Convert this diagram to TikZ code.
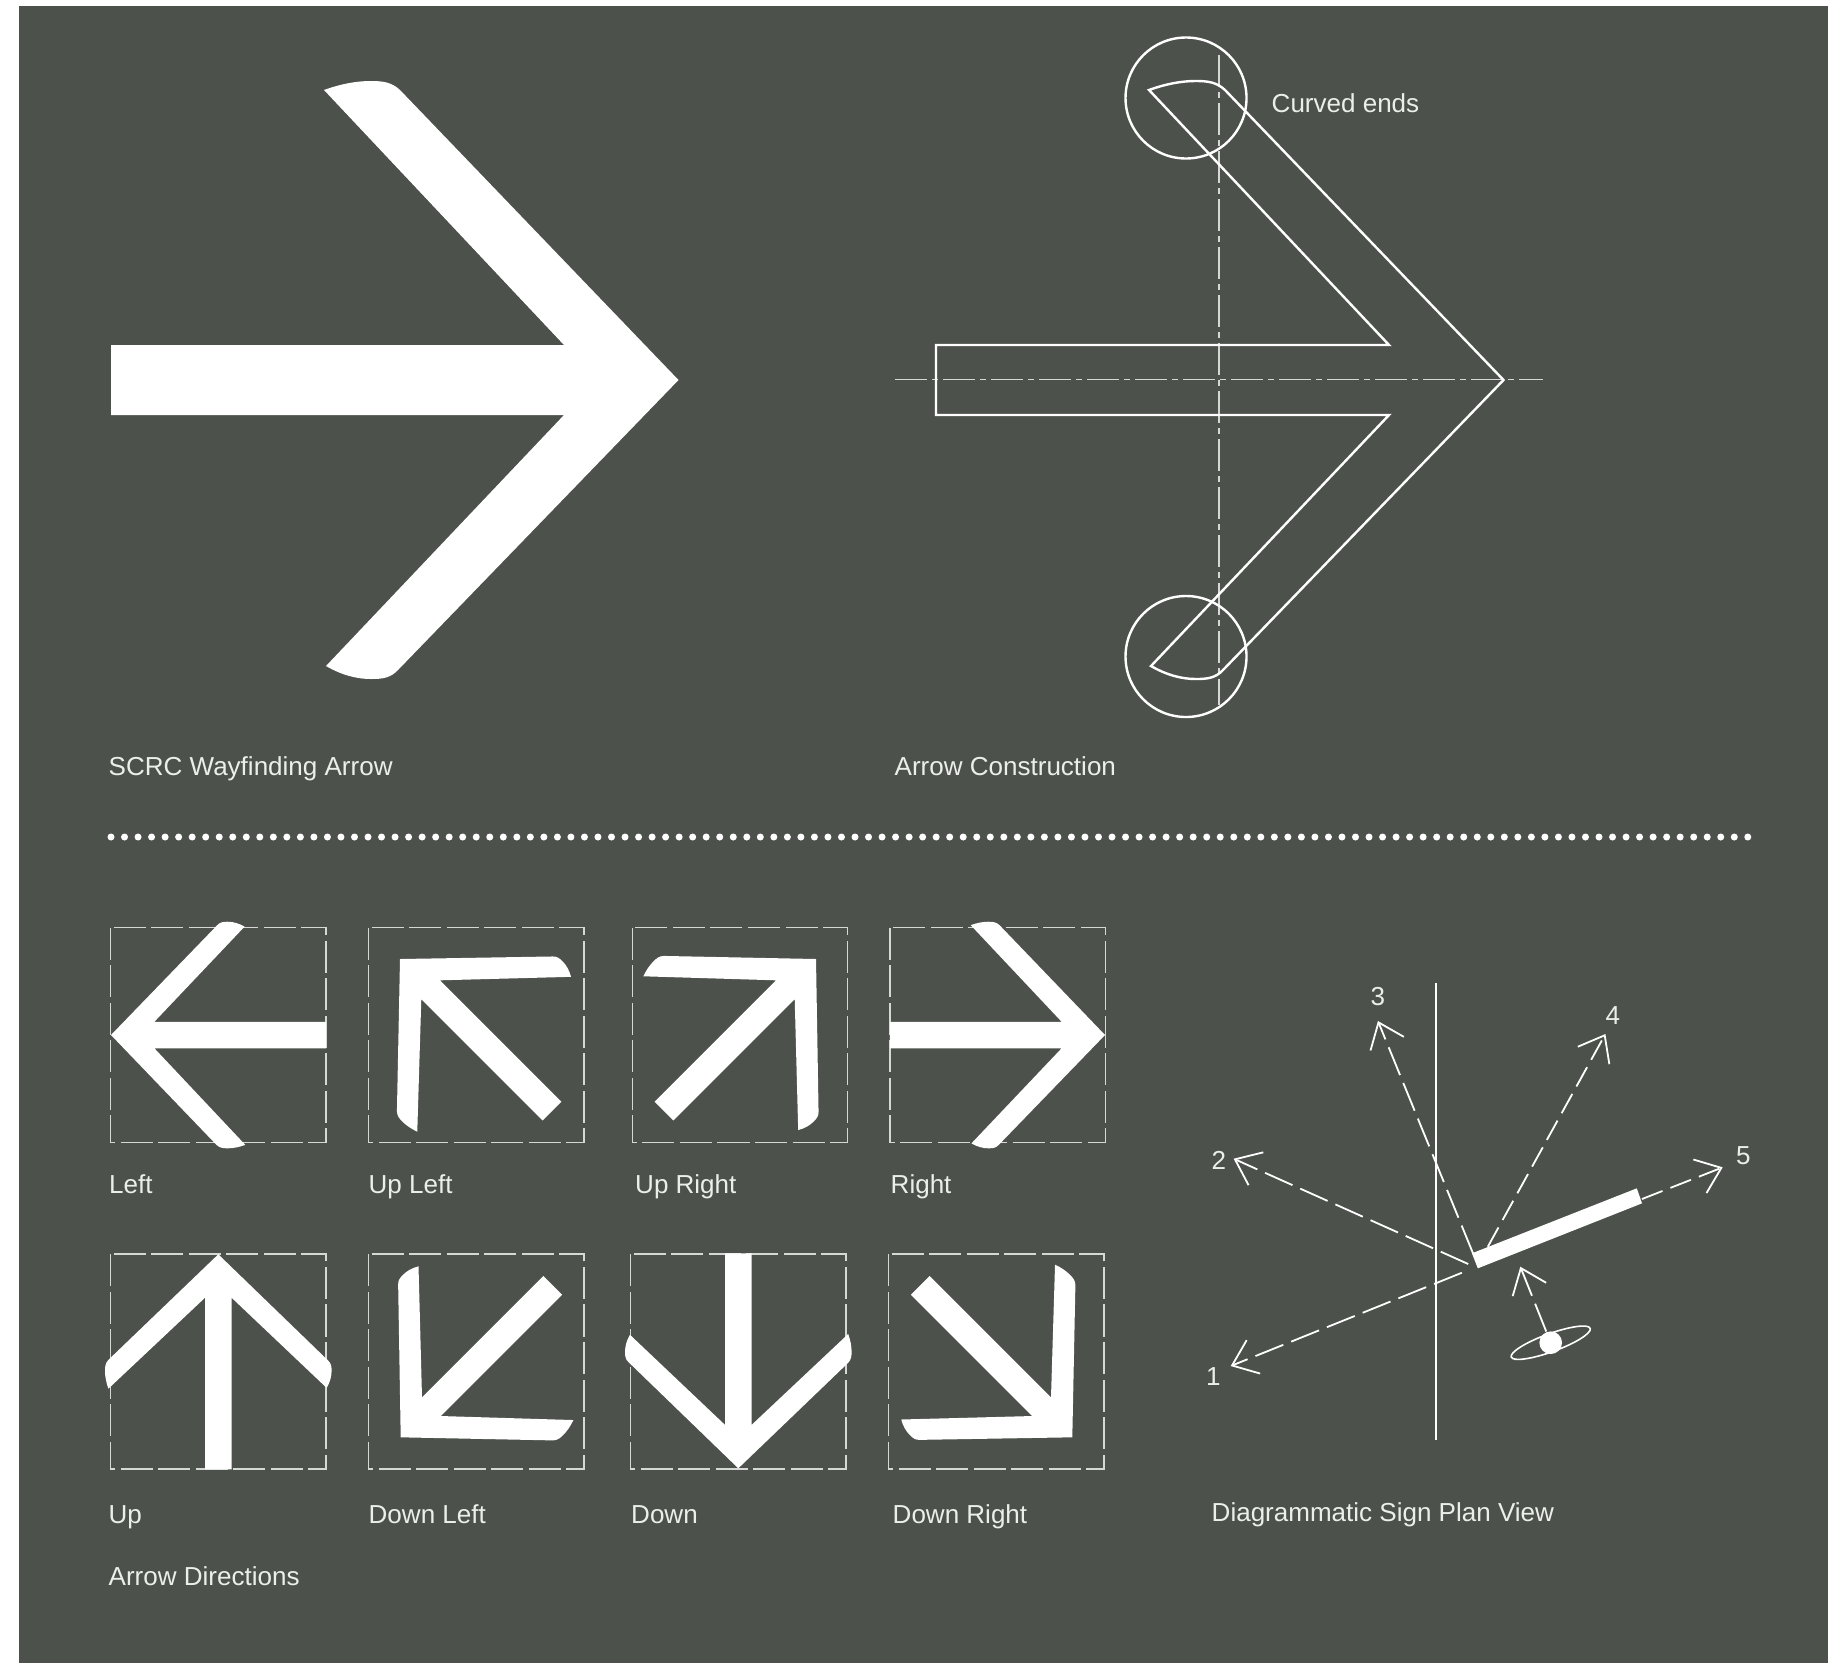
\documentclass[tikz,border=0pt]{standalone}
\usepackage{fontspec}
\setmainfont{Liberation Sans}
\usetikzlibrary{shapes.geometric, arrows.meta}
\definecolor{panelgrey}{RGB}{76, 82, 75}
\definecolor{softwhite}{RGB}{236, 238, 235}
\definecolor{guidegrey}{RGB}{214, 216, 213}

% the arrow, tip at the origin, pointing right
\newcommand{\wayarrow}[1]{
  \path[#1] (-567.5,-35) -- (-114.5,-35) -- (-354.5,-290)
    .. controls (-338,-296) and (-322,-299) .. (-308,-299)
    .. controls (-296,-299) and (-287,-298) .. (-278.5,-290)
    -- (0,0) -- (-280.5,290)
    .. controls (-288,298) and (-296,299) .. (-307.5,299)
    .. controls (-322,299) and (-337,295) .. (-352.5,286)
    -- (-114.5,35) -- (-567.5,35) -- cycle;
}
\tikzset{
  drawline/.style={draw=white, line width=0.024cm, line join=miter},
  chainline/.style={draw=guidegrey, line width=0.011cm,
    dash pattern=on 0.32cm off 0.05cm on 0.06cm off 0.05cm},
  guidebox/.style={draw=guidegrey, line width=0.011cm,
    dash pattern=on 0.32cm off 0.055cm},
  plandash/.style={draw=white, line width=0.018cm,
    dash pattern=on #1 off 0.085cm,
    -{Straight Barb[length=0.23cm, width=0.36cm, line width=0.018cm]}},
  caption/.style={font=\fontsize{7.4pt}{9pt}\selectfont, text=softwhite,
    inner sep=0pt, anchor=base west},
  digit/.style={font=\fontsize{7.4pt}{9pt}\selectfont, text=softwhite, inner sep=0pt}
}

\begin{document}
\begin{tikzpicture}[x=0.01cm, y=-0.01cm]
    \useasboundingbox (0,0) rectangle (1828,1663);
    \fill[white] (0,0) rectangle (1828,1663);
    \fill[panelgrey] (19,6) rectangle (1828,1663);

    % Big arrow
    \wayarrow{fill=white, shift={(678.5,380)}}
    \node[caption] (wayfinding) at (108,775) {SCRC Wayfinding Arrow};

    % Construction
    \draw[chainline] (895,379.5) -- (1543,379.5);
    \draw[chainline] (1219,55) -- (1219,705);
    \wayarrow{drawline, shift={(1503.5,380)}}
    \draw[drawline] (1186,98) circle (60.5);
    \draw[drawline] (1186,656.5) circle (60.5);
    \node[caption] (curved) at (1271,112) {Curved ends};
    \node[caption] (construction) at (894,775) {Arrow Construction};

    % Dotted rule
    \draw[white, line width=0.07cm, line cap=round, dash pattern=on 0pt off 0.1352cm]
      (111,837) -- (1760,837);

    % Direction boxes
    \foreach \bx/\by/\tx/\ty/\ang in {
      110.7/927.7/111/1035/180, 368.7/927.7/400/959/135,
      632.3/927.7/816/959/45, 890/927.7/1105/1035/0,
      110.7/1254/218.3/1254.3/90, 368.7/1254/400.7/1437.3/225,
      630.7/1254/738.3/1468.3/270, 888.7/1254/1072.3/1437.3/315}{
      \draw[guidebox] (\bx,\by) rectangle ++(215.3,215);
      \wayarrow{fill=white, shift={(\tx,\ty)}, rotate=\ang, scale=0.3789}
    }

    % Direction labels
    \foreach \lx/\ly/\lab in {
      108.5/1193/Left, 368/1193/Up Left, 634.5/1193/Up Right, 890/1193/Right,
      108/1523/Up, 368/1523/Down Left, 630.5/1523/Down, 892/1523/Down Right,
      108/1585/Arrow Directions}{
      \node[caption] (lbl\lx-\ly) at (\lx,\ly) {\lab};
    }

    % Plan view
    \draw[draw=white, line width=0.021cm] (1435.6,983.3) -- (1435.6,1440);
    \fill[white] (1471.9,1253.3) -- (1636.8,1188.3) -- (1642,1203.3) -- (1477.8,1268.3) -- cycle;

    \coordinate (start1) at (1461.9,1272.7);
    \coordinate (start2) at (1468.2,1264);
    \coordinate (start3) at (1473,1253.3);
    \coordinate (start4) at (1487.8,1246.7);
    \coordinate (start5) at (1642,1199);
    \coordinate (tip1) at (1230.7,1366);
    \coordinate (tip2) at (1233.6,1158.7);
    \coordinate (tip3) at (1377.9,1021);
    \coordinate (tip4) at (1605.4,1034);
    \coordinate (tip5) at (1722.7,1167.3);
    \coordinate (tipview) at (1520.3,1266.7);

    \foreach \i/\dashlen in {1/0.3cm,2/0.3cm,3/0.3cm,4/0.22cm,5/0.22cm}{
      \draw[plandash=\dashlen] (start\i) -- (tip\i);
    }

    \node[digit] (num1) at (1213.3,1376.7) {1};
    \node[digit] (num2) at (1218.9,1160.7) {2};
    \node[digit] (num3) at (1377.9,997) {3};
    \node[digit] (num4) at (1612.8,1016) {4};
    \node[digit] (num5) at (1743.4,1155.7) {5};

    % Viewer
    \node[draw=white, line width=0.016cm, ellipse, rotate=20, inner sep=0pt,
      minimum width=0.84cm, minimum height=0.18cm] (eye) at (1550.7,1342.7) {};
    \node[fill=white, circle, inner sep=0pt, minimum size=0.226cm] (pupil) at (1550.7,1342.7) {};
    \draw[plandash=0.3cm] (pupil) -- (tipview);

    \node[caption] (planview) at (1211,1521) {Diagrammatic Sign Plan View};
  \end{tikzpicture}
\end{document}
